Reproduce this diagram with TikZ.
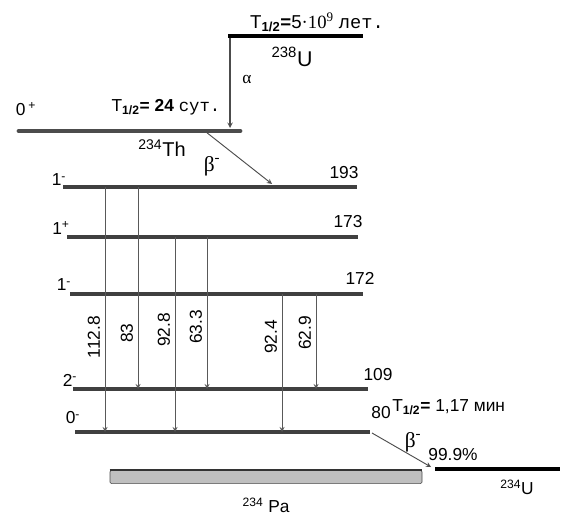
\documentclass[tikz,border=0pt]{standalone}
\usepackage{fontspec}
\setmainfont{Liberation Sans}
\newfontfamily\timesfont{Liberation Serif}
\newfontfamily\courfont{Liberation Mono}
\usetikzlibrary{arrows.meta}

\begin{document}
\begin{tikzpicture}[
        x=0.75pt, y=-0.75pt,
        >=stealth,
        lvl/.style={line width=2.4pt, draw=black!75},
        gnd/.style={line width=3pt, draw=black},
        gam/.style={->, line width=0.7pt, draw=black!65},
        decay/.style={->, line width=0.8pt, draw=black!70},
        txt/.style={inner sep=0pt, font=\fontsize{13}{15}\selectfont},
        greek/.style={inner sep=0pt, font=\fontsize{16}{18}\selectfont\timesfont},
        pabox/.style={draw=black!70, fill=black!25, rounded corners=1pt,
                      minimum width=234pt, minimum height=10pt, inner sep=0pt}
      ]
        \useasboundingbox (0,0) rectangle (571,516);

        % 238U
        \coordinate (wU) at (228,36);
        \coordinate (eU) at (363,36);
        \draw[gnd] (wU) -- (eU);
        \node[txt, font=\fontsize{14}{16}\selectfont] (tU) at (317,22)
          {T\textsubscript{\bfseries 1/2}\textbf{=}5{\timesfont·10\textsuperscript{9}} {\courfont лет.}};
        \node[txt, font=\fontsize{16}{18}\selectfont] (nU) at (292,57) {\textsuperscript{238}U};

        % 234Th
        \coordinate (wTh) at (19,131);
        \coordinate (eTh) at (240,131);
        \draw[line width=3.6pt, draw=black!70, line cap=round] (wTh) -- (eTh);
        \node[txt] (sTh) at (26,109) {0\,\textsuperscript{+}};
        \node[txt] (tTh) at (166,107)
          {T\textsubscript{\bfseries 1/2}\textbf{= 24} {\courfont сут.}};
        \node[txt, font=\fontsize{15}{17}\selectfont] (nTh) at (162,148) {\textsuperscript{234}Th};

        \coordinate (a1) at (230,38);
        \coordinate (a2) at (230,128);
        \draw[decay] (a1) -- (a2);
        \node[greek, font=\fontsize{13}{15}\selectfont\timesfont] (alpha) at (247,80) {α};

        % 234Pa levels
        \foreach \n/\xa/\xb/\y in {193/63/357/187, 173/67/358/237, 172/70/363/294,
                                   109/73/368/389, 80/75/370/432}{
          \coordinate (w\n) at (\xa,\y);
          \coordinate (e\n) at (\xb,\y);
          \draw[lvl] (w\n) -- (e\n);
        }
        \node[txt] (s193) at (59,180) {1\textsuperscript{-}};
        \node[txt] (s173) at (61,228) {1\textsuperscript{+}};
        \node[txt] (s172) at (64,285) {1\textsuperscript{-}};
        \node[txt] (s109) at (70,380) {2\textsuperscript{-}};
        \node[txt] (s80) at (73,418) {0\textsuperscript{-}};

        \node[txt] (E193) at (344,173) {193};
        \node[txt] (E173) at (348,222) {173};
        \node[txt] (E172) at (360,278) {172};
        \node[txt] (E109) at (378,375) {109};
        \node[txt] (E80) at (381,413) {80};
        \node[txt, anchor=west] (tPa) at (392,407)
          {T\textsubscript{\bfseries 1/2}\textbf{=} 1,17 мин};

        \coordinate (b1s) at (206,132);
        \coordinate (b1e) at (272,184);
        \draw[decay, line width=0.7pt] (b1s) -- (b1e);
        \node[greek] (beta1) at (212,166) {β\textsuperscript{-}};

        % gamma lines
        \foreach \x/\a/\b/\t/\ly in {105/193/80/112.8/337, 138/193/109/83/333,
                                     175/173/80/92.8/330, 207/173/109/63.3/327,
                                     282/172/80/92.4/337, 316/172/109/62.9/333}{
          \draw[gam] (\x,0 |- w\a) -- (\x,0 |- w\b);
          \node[txt, rotate=90] at (\x-11,\ly) {\t};
        }

        % 234U
        \coordinate (wU2) at (435,469);
        \coordinate (eU2) at (560,469);
        \draw[gnd, line width=2.8pt] (wU2) -- (eU2);
        \node[txt] (nU2) at (517,487) {\textsuperscript{234}U};

        \coordinate (b2s) at (372,433);
        \coordinate (b2e) at (431,467);
        \draw[decay, line width=0.7pt] (b2s) -- (b2e);
        \node[greek] (beta2) at (413,442) {β\textsuperscript{-}};
        \node[txt] (br) at (453,455) {99.9\%};

        % 234Pa
        \node[pabox] (pa) at (266,477) {};
        \draw[line width=2pt, draw=black!80] (pa.north west) -- (pa.north east);
        \node[txt] (nPa) at (266,505) {\textsuperscript{234} Pa};
      \end{tikzpicture}
\end{document}
